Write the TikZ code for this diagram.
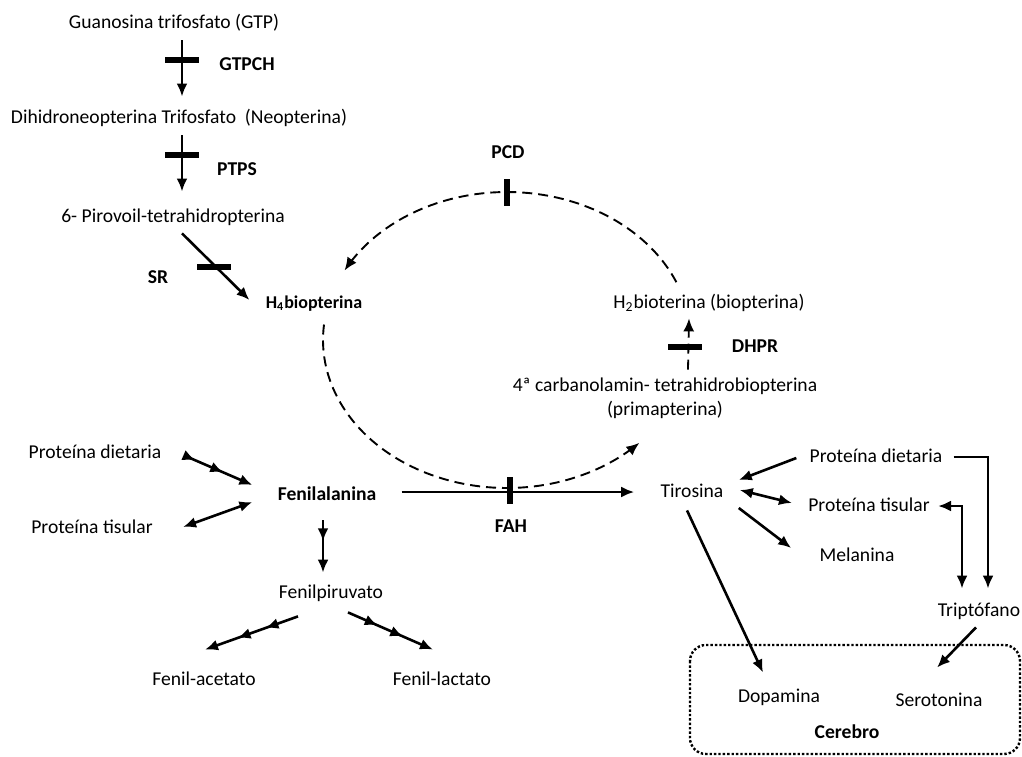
\documentclass[tikz,border=0pt]{standalone}
\usepackage{fontspec}
\setmainfont{Carlito}
\usetikzlibrary{arrows.meta,decorations.markings,calc}

\begin{document}
\begin{tikzpicture}[x=0.5pt,y=-0.5pt,>={Latex[length=6.5pt,width=5.5pt]},
	every node/.style={font=\fontsize{9.8}{11}\selectfont,inner sep=1pt,text height=7pt,text depth=2pt},
	enz/.style={font=\fontsize{9.8}{11}\selectfont\bfseries},
	arr/.style={line width=1.3pt,->},
	dbl/.style={line width=1.3pt,<->},
	onetip/.style={postaction={decorate},decoration={markings,mark=at position #1 with {\arrow{>}}}},
	twotips/.style 2 args={postaction={decorate},decoration={markings,
		mark=at position #1 with {\arrow{>}},mark=at position #2 with {\arrow{>}}}},
	hbar/.style={fill=black,minimum width=17pt,minimum height=3pt,inner sep=0pt,text height=,text depth=},
	vbar/.style={fill=black,minimum width=3pt,minimum height=13.5pt,inner sep=0pt,text height=,text depth=},
	cyc/.style={line width=0.95pt,dash pattern=on 5pt off 3pt}]
	\useasboundingbox (0,0) rectangle (1022,756);
	% upper pathway
	\node (gtp) at (174,23) {Guanosina trifosfato (GTP)};
	\node (dhn) at (179,118) {Dihidroneopterina Trifosfato\ \ (Neopterina)};
	\node (pir) at (173,217) {6- Pirovoil-tetrahidropterina};
	\node[enz] (h4) at (314,303) {\fontsize{9}{11}\selectfont H\textsubscript{4}biopterina};
	\node[enz] (gtpch) at (247,65) {GTPCH};
	\node[enz] (ptps) at (237,170) {PTPS};
	\node[enz] (sr) at (158,278) {SR};
	\node[enz] (pcd) at (508,153) {PCD};
	\node (h2) at (709,303) {H\textsubscript{2}bioterina (biopterina)};
	\node[enz] (dhpr) at (755,347) {DHPR};
	\node (carb) at (665,386) {4ª carbanolamin- tetrahidrobiopterina};
	\node (prim) at (665,410) {(primapterina)};
	% phenylalanine side
	\node (diet1) at (95,453) {Proteína dietaria};
	\node (tis1) at (92,528) {Proteína tisular};
	\node[enz] (phe) at (327,495) {Fenilalanina};
	\node[enz] (fah) at (511,527) {FAH};
	\node (fpir) at (331,593) {Fenilpiruvato};
	\node (facet) at (204,680) {Fenil-acetato};
	\node (flact) at (442,680) {Fenil-lactato};
	% tyrosine side
	\node (tyr) at (692,492) {Tirosina};
	\node (diet2) at (876,457) {Proteína dietaria};
	\node (tis2) at (869,506) {Proteína tisular};
	\node (mel) at (857,556) {Melanina};
	\node (trp) at (979,611) {Triptófano};
	\node (dop) at (779,697) {Dopamina};
	\node (ser) at (939,701) {Serotonina};
	\node[enz] (cer) at (847,733) {Cerebro};
	% enzyme bars
	\node[hbar] (bgtpch) at (182,60) {};
	\node[hbar] (bptps) at (182,155) {};
	\node[hbar] (bsr) at (214,267) {};
	\node[vbar] (bpcd) at (507,192) {};
	\node[hbar] (bdhpr) at (685,347) {};
	\node[vbar] (bfah) at (510,490) {};
	% draw the lines
	\draw[arr] ($(gtp.south)+(8,6)$) -- ($(dhn.north)+(3,-10)$);
	\draw[arr] ($(dhn.south)+(3,6)$) -- ($(pir.north)+(9,-14)$);
	\draw[arr] ($(pir.south)+(9,5)$) -- ($(h4.west)+(-14,-3)$);
	\draw[line width=0.9pt,dash pattern=on 5pt off 3pt,->] ($(carb.north)+(23,-5)$) -- ($(h2.south)+(-20,4)$);
	\draw[cyc,->] plot[domain=23:152,samples=80] ({507+184*cos(\x)},{340-148*sin(\x)});
	\draw[cyc,->] plot[domain=174:316,samples=80] ({507+184*cos(\x)},{340-148*sin(\x)});
	\draw[arr] ($(phe.east)+(23,-3)$) -- ($(tyr.west)+(-24,0)$);
	\draw[arr,twotips={0.12}{0.55}] ($(diet1.east)+(24,4)$) -- ($(phe.west)+(-23,-10)$);
	\draw[dbl] ($(tis1.east)+(28,-1)$) -- ($(phe.west)+(-23,7)$);
	\draw[arr,onetip=0.4] ($(phe.south)+(-4,14)$) -- ($(fpir.north)+(-8,-9)$);
	\draw[arr,twotips={0.35}{0.65}] ($(fpir.south)+(-33,12)$) -- ($(facet.north)+(1,-19)$);
	\draw[arr,twotips={0.35}{0.65}] ($(fpir.south)+(17,8)$) -- ($(flact.north)+(-9,-19)$);
	\draw[arr] ($(diet2.west)+(-11,1)$) -- ($(tyr.east)+(13,-12)$);
	\draw[dbl] ($(tyr.east)+(14,-2)$) -- ($(tis2.west)+(-14,-3)$);
	\draw[arr] ($(tyr.east)+(13,16)$) -- ($(mel.west)+(-26,-8)$);
	\draw[arr] ($(tyr.south)+(-5,7)$) -- ($(dop.north)+(-16,-13)$);
	\draw[arr] ($(diet2.east)+(9,0)$) -| ($(trp.north)+(9,-11)$);
	\draw[dbl] ($(tis2.east)+(6,0)$) -| ($(trp.north)+(-17,-11)$);
	\draw[arr] ($(trp.south)+(-3,5)$) -- ($(ser.north)+(-2,-22)$);
	% brain box
	\draw[densely dotted,line width=1.2pt,rounded corners=8pt] (690,645) rectangle (1020,754);
\end{tikzpicture}
\end{document}
